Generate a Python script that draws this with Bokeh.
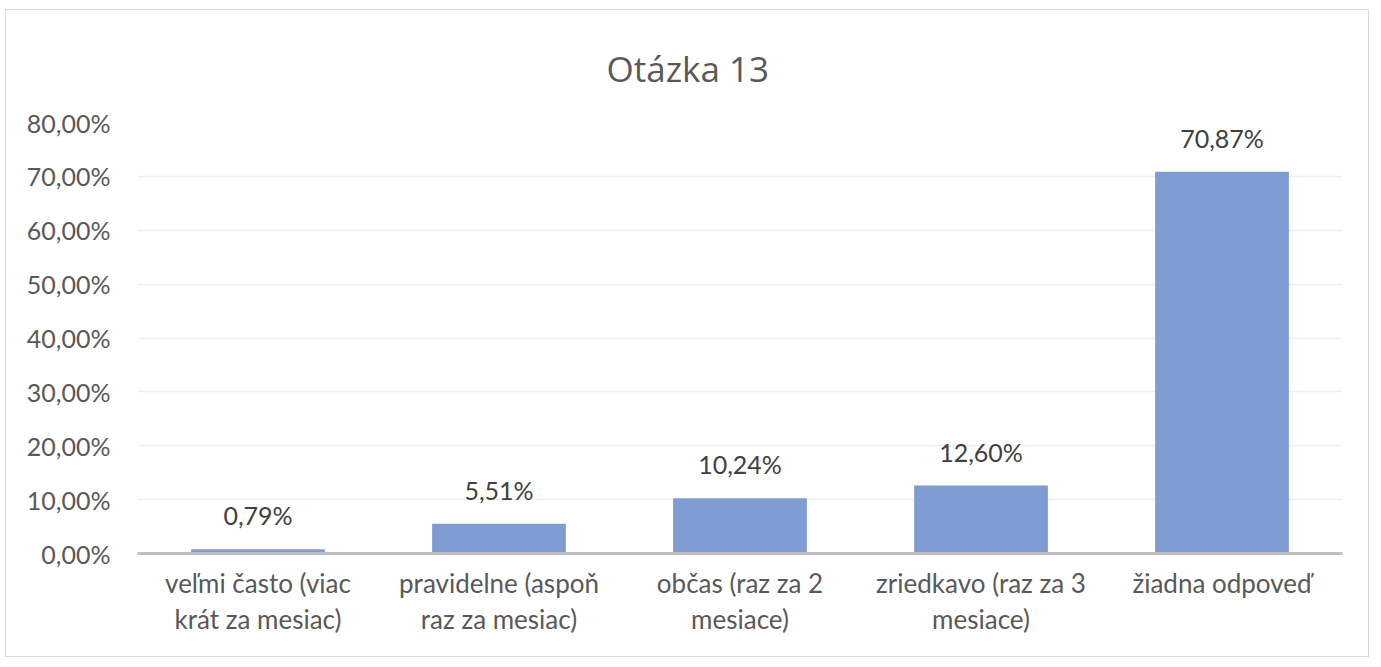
from bokeh.plotting import figure
from bokeh.models import (ColumnDataSource, LabelSet, CategoricalAxis, FixedTicker, Range1d,
                          CustomJSTickFormatter)
from bokeh.core.properties import value
from bokeh.embed import file_html
from bokeh.resources import INLINE

title_text = "Otázka 13"
categories = ["veľmi často (viac krát za mesiac)", "pravidelne (aspoň raz za mesiac)",
              "občas (raz za 2 mesiace)", "zriedkavo (raz za 3 mesiace)", "žiadna odpoveď"]
label_line1 = ["veľmi často (viac", "pravidelne (aspoň", "občas (raz za 2", "zriedkavo (raz za 3", "žiadna odpoveď"]
label_line2 = ["krát za mesiac)", "raz za mesiac)", "mesiace)", "mesiace)", ""]
values = [0.79, 5.51, 10.24, 12.60, 70.87]
value_labels = ["0,79%", "5,51%", "10,24%", "12,60%", "70,87%"]
y_ticks = [0, 10, 20, 30, 40, 50, 60, 70, 80]
y_tick_labels = ["0,00%", "10,00%", "20,00%", "30,00%", "40,00%", "50,00%", "60,00%", "70,00%", "80,00%"]

FONT = "Lato"
TEXT = "#595959"
W, H = 1364, 648
ML, MR, MT, MB = 131, 28, 112, 105

src = ColumnDataSource(dict(cat=categories, val=values, lab=value_labels))

p = figure(x_range=categories, y_range=Range1d(0, 80), width=W, height=H,
           output_backend="svg", toolbar_location=None, title=title_text,
           min_border_left=ML, min_border_right=MR, min_border_top=MT, min_border_bottom=MB,
           x_axis_location=None)
p.styles = {"margin-left": "5px", "margin-top": "9px", "border": "1px solid #D9D9D9"}
p.outline_line_color = None

p.title.align = "left"
p.title.offset = W / 2 - ML - 82
p.title.text_font = "Open Sans"
p.title.text_font_size = "35px"
p.title.text_font_style = "normal"
p.title.text_color = TEXT
p.title.vertical_align = "bottom"
p.title.standoff = 62

p.vbar(x="cat", top="val", width=0.555, source=src, color="#7F9DD3", line_color=None)

p.add_layout(LabelSet(x="cat", y="val", text="lab", source=src, text_align="center",
                      text_baseline="bottom", y_offset=19, text_font=value(FONT),
                      text_font_size="25px", text_color="#404040"))

# y axis
p.yaxis.ticker = FixedTicker(ticks=y_ticks)
p.yaxis.major_label_overrides = {t: l for t, l in zip(y_ticks, y_tick_labels)}
p.yaxis.axis_line_color = None
p.yaxis.major_tick_line_color = None
p.yaxis.minor_tick_line_color = None
p.yaxis.major_tick_out = 0
p.yaxis.major_label_standoff = 27
p.yaxis.major_label_text_font = FONT
p.yaxis.major_label_text_font_size = "25px"
p.yaxis.major_label_text_color = TEXT

p.ygrid.grid_line_color = "#EFEFEF"
p.ygrid.grid_line_width = 1.5
p.xgrid.grid_line_color = None

code = "const i = cats.indexOf(tick); return i >= 0 ? lines[i] : '';"
ax1 = CategoricalAxis(formatter=CustomJSTickFormatter(args=dict(cats=categories, lines=label_line1), code=code))
ax2 = CategoricalAxis(formatter=CustomJSTickFormatter(args=dict(cats=categories, lines=label_line2), code=code))
for ax in [ax1, ax2]:
    ax.major_tick_line_color = None
    ax.major_tick_out = 0
    ax.major_tick_in = 0
    ax.minor_tick_line_color = None
    ax.major_label_text_font = FONT
    ax.major_label_text_font_size = "26px"
    ax.major_label_text_color = TEXT
    ax.major_label_orientation = "horizontal"
ax1.axis_line_color = "#BFBFBF"
ax1.axis_line_width = 3
ax1.major_label_standoff = 13
ax2.axis_line_color = None
ax2.major_label_standoff = 1
p.add_layout(ax1, "below")
p.add_layout(ax2, "below")

open("out.html", "w").write(file_html(p, INLINE))
